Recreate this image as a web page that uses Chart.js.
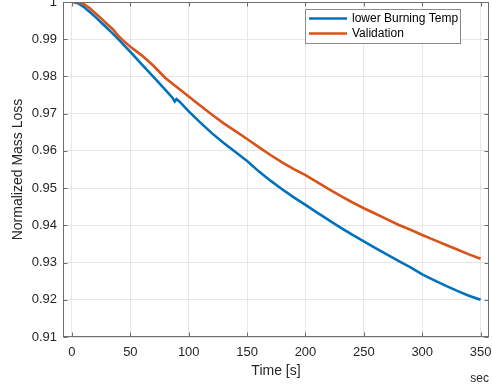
<!DOCTYPE html>
<html>
<head>
<meta charset="utf-8">
<script src="https://cdn.jsdelivr.net/npm/chart.js@4.4.1/dist/chart.umd.min.js"></script>
<style>
  html, body { margin: 0; padding: 0; background: #fff; overflow: hidden; }
  #wrap { position: absolute; left: 0; top: -20px; width: 530px; height: 405px; }
</style>
</head>
<body>
<div id="wrap"><canvas id="massChart"></canvas></div>
<script>
// Dados
const seriesLabels = ['lower Burning Temp', 'Validation'];

const blueTime = [1, 5, 10, 15, 20, 25, 30, 35, 40, 50, 60, 70, 80, 86, 88, 89.5, 92,
  100, 110, 120, 130, 140, 150, 160, 170, 180, 190, 200, 210, 220, 230, 240, 250,
  260, 270, 280, 290, 300, 310, 320, 330, 340, 350];
const blueMass = [1.0, 0.9997, 0.9987, 0.9974, 0.9960, 0.9945, 0.9930, 0.9915, 0.9899,
  0.9866, 0.9832, 0.9798, 0.9764, 0.9743, 0.9733, 0.9739, 0.9733,
  0.9706, 0.9676, 0.9647, 0.9621, 0.9597, 0.9573, 0.9545, 0.9520, 0.9497, 0.9475,
  0.9455, 0.9434, 0.9414, 0.9394, 0.9375, 0.9357, 0.9339, 0.9321, 0.9304, 0.9287,
  0.9268, 0.9253, 0.9238, 0.9224, 0.9211, 0.9200];

const valTime = [0, 5, 10, 15, 20, 25, 30, 35, 40, 45, 50, 60, 70, 80, 90,
  100, 110, 120, 130, 140, 150, 160, 170, 180, 190, 200, 210, 220, 230, 240, 250,
  260, 270, 280, 290, 300, 310, 320, 330, 340, 350];
const valMass = [1.0, 1.0, 0.9995, 0.9984, 0.9970, 0.9956, 0.9941, 0.9927, 0.9908, 0.9893,
  0.9880, 0.9856, 0.9828, 0.9796, 0.9771,
  0.9746, 0.9721, 0.9697, 0.9674, 0.9653, 0.9632, 0.9610, 0.9589, 0.9569, 0.9551,
  0.9535, 0.9516, 0.9497, 0.9479, 0.9462, 0.9446, 0.9431, 0.9416, 0.9401, 0.9388,
  0.9374, 0.9361, 0.9348, 0.9335, 0.9322, 0.9310];

const xTicks = [0, 50, 100, 150, 200, 250, 300, 350];
const yTicks = [0.91, 0.92, 0.93, 0.94, 0.95, 0.96, 0.97, 0.98, 0.99, 1];

const FONT = "'Liberation Sans', Arial, sans-serif";
const TXT = '#262626';

function toPoints(xs, ys) {
  return xs.map((x, i) => ({ x: x, y: ys[i] }));
}

// Moldura, marcas internas, legenda e "sec"
const matlabFrame = {
  id: 'matlabFrame',
  afterDraw(chart) {
    const { ctx, chartArea: a, scales: { x, y } } = chart;
    const L = Math.round(a.left) + 0.5, R = Math.round(a.right) - 0.5;
    const T = Math.round(a.top) + 0.5, B = Math.round(a.bottom) - 0.5;
    ctx.save();
    ctx.strokeStyle = '#6e6e6e';
    ctx.lineWidth = 1;
    ctx.strokeRect(L, T, R - L, B - T);
    ctx.beginPath();
    xTicks.forEach(v => {
      const px = Math.round(x.getPixelForValue(v)) + 0.5;
      ctx.moveTo(px, B); ctx.lineTo(px, B - 4);
      ctx.moveTo(px, T); ctx.lineTo(px, T + 4);
    });
    yTicks.forEach(v => {
      const py = Math.round(y.getPixelForValue(v)) + 0.5;
      ctx.moveTo(L, py); ctx.lineTo(L + 4, py);
      ctx.moveTo(R, py); ctx.lineTo(R - 4, py);
    });
    ctx.stroke();

    // legenda
    const bx = 305.5, by = 29.5, bw = 155, bh = 34;
    ctx.fillStyle = '#fff';
    ctx.fillRect(bx, by, bw, bh);
    ctx.strokeStyle = '#8a8a8a';
    ctx.strokeRect(bx, by, bw, bh);
    ctx.font = '12px ' + FONT;
    ctx.textBaseline = 'middle';
    ctx.textAlign = 'left';
    chart.data.datasets.forEach((ds, i) => {
      const ly = by + 9 + i * 15;
      ctx.strokeStyle = ds.borderColor;
      ctx.lineWidth = 2.6;
      ctx.beginPath();
      ctx.moveTo(309, ly); ctx.lineTo(347, ly);
      ctx.stroke();
      ctx.fillStyle = '#000';
      ctx.fillText(ds.label, 352, ly);
    });

    ctx.fillStyle = TXT;
    ctx.font = '12px ' + FONT;
    ctx.textAlign = 'right';
    ctx.fillText('sec', 489, 399);
    ctx.restore();
  }
};

new Chart(document.getElementById('massChart'), {
  type: 'line',
  data: {
    datasets: [{
      label: seriesLabels[0],
      data: toPoints(blueTime, blueMass),
      borderColor: '#0072BD',
      borderWidth: 2.6,
      pointRadius: 0,
      tension: 0,
      order: 1
    }, {
      label: seriesLabels[1],
      data: toPoints(valTime, valMass),
      borderColor: '#D95319',
      borderWidth: 2.6,
      pointRadius: 0,
      tension: 0,
      order: 0
    }]
  },
  options: {
    responsive: true,
    maintainAspectRatio: false,
    animation: false,
    layout: { padding: { top: 22, right: 41, left: 0, bottom: 0 } },
    plugins: {
      legend: { display: false },
      tooltip: { enabled: false }
    },
    scales: {
      x: {
        type: 'linear',
        min: -7.7,
        max: 357.2,
        afterBuildTicks: s => { s.ticks = xTicks.map(v => ({ value: v })); },
        afterFit: s => { s.height = 48; },
        grid: { color: '#e6e6e6', drawTicks: false },
        border: { display: false },
        ticks: { color: TXT, font: { family: FONT, size: 13 }, padding: 8, maxRotation: 0 },
        title: { display: true, text: 'Time [s]', color: TXT, font: { family: FONT, size: 14 },
          padding: { top: 0, bottom: 5 } }
      },
      y: {
        min: 0.91,
        max: 1,
        afterBuildTicks: s => { s.ticks = yTicks.map(v => ({ value: v })); },
        afterFit: s => { s.width = 63; },
        grid: { color: '#e6e6e6', drawTicks: false },
        border: { display: false },
        ticks: { color: TXT, font: { family: FONT, size: 13 }, padding: 6,
          callback: v => String(+v.toFixed(2)) },
        title: { display: true, text: 'Normalized Mass Loss', color: TXT,
          font: { family: FONT, size: 14 }, padding: { top: 10, bottom: 0 } }
      }
    }
  },
  plugins: [matlabFrame]
});
</script>
</body>
</html>
